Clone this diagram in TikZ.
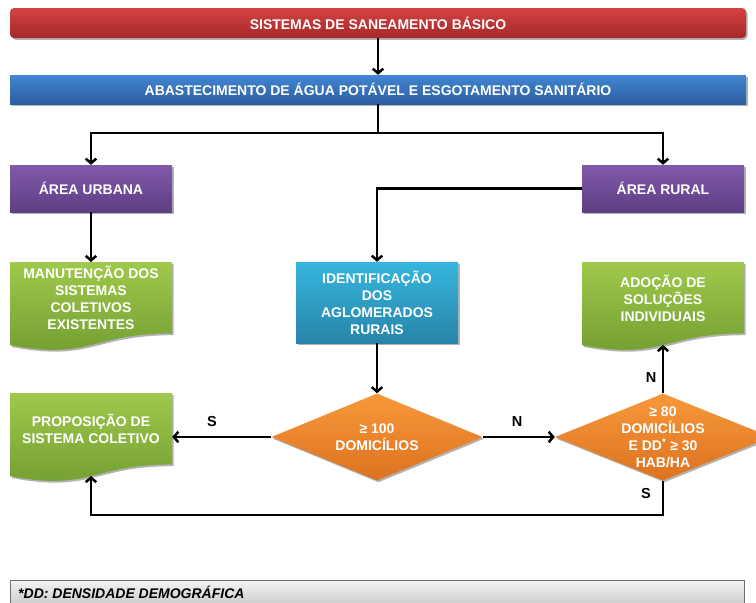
\documentclass[tikz,border=0pt]{standalone}
\usepackage{fontspec}
\setmainfont{Liberation Sans}
\usetikzlibrary{arrows.meta,shapes.geometric,shadows,calc}
\definecolor{redT}{RGB}{212,66,66}
\definecolor{redB}{RGB}{165,40,40}
\definecolor{bluT}{RGB}{66,134,210}
\definecolor{bluB}{RGB}{44,94,160}
\definecolor{purT}{RGB}{130,90,170}
\definecolor{purB}{RGB}{94,62,132}
\definecolor{grnT}{RGB}{160,200,76}
\definecolor{grnB}{RGB}{112,156,48}
\definecolor{cyaT}{RGB}{54,182,222}
\definecolor{cyaB}{RGB}{40,132,168}
\definecolor{oraT}{RGB}{248,152,58}
\definecolor{oraB}{RGB}{220,114,32}
\definecolor{gryT}{RGB}{244,244,244}
\definecolor{gryB}{RGB}{196,196,196}
\definecolor{gryD}{RGB}{110,110,110}
\newcommand{\mydoc}[5]{% x0, y0, H, top colour, bottom colour
  \path[top color=#4,bottom color=#5,shadowed]
    (#1,#2) -- (#1+162,#2) -- (#1+162,#2+0.802*#3)
    .. controls (#1+81,#2+0.802*#3) and (#1+81,#2+1.107*#3) .. (#1,#2+0.934*#3) -- cycle;}
\begin{document}
\begin{tikzpicture}[x=1pt,y=-1pt,
  shadowed/.style={drop shadow={shadow xshift=1.5pt,shadow yshift=-1.8pt,opacity=0.3,fill=black}},
  txt/.style={text=white,font=\bfseries\fontsize{14}{17}\selectfont,align=center,inner sep=0pt},
  bar/.style={txt,font=\bfseries\fontsize{14}{17}\selectfont,rectangle,minimum width=736pt,minimum height=#1,shadowed},
  box/.style={txt,rectangle,minimum width=162pt,minimum height=#1,shadowed},
  doctxt/.style={txt,rectangle,minimum width=162pt,minimum height=71.4pt},
  dec/.style={diamond,inner sep=0pt,shadowed},
  lab/.style={font=\bfseries\fontsize{14.5}{16}\selectfont,text=black,inner sep=0pt},
  conn/.style={draw=black,line width=2.5pt,-{Straight Barb[length=4.5pt,width=10.5pt,line width=2.5pt]}},
  line/.style={draw=black,line width=2.5pt}
]
\useasboundingbox (0,0) rectangle (756,603);
\clip (0,0) rectangle (756,603);
\fill[white] (0,0) rectangle (756,603);

% bars
\node[bar=30pt,rounded corners=4pt,top color=redT,bottom color=redB] (top) at (378,23) {SISTEMAS DE SANEAMENTO BÁSICO};
\node[bar=29pt,top color=bluT,bottom color=bluB] (abast) at (378,89.5) {ABASTECIMENTO DE ÁGUA POTÁVEL E ESGOTAMENTO SANITÁRIO};

% areas
\node[box=47pt,top color=purT,bottom color=purB] (urb) at (91,188.5) {ÁREA URBANA};
\node[box=47pt,top color=purT,bottom color=purB] (rur) at (663,188.5) {ÁREA RURAL};

% identification
\node[box=81pt,top color=cyaT,bottom color=cyaB] (ident) at (377,302.5) {IDENTIFICAÇÃO\\DOS\\AGLOMERADOS\\RURAIS};

% document shapes
\mydoc{10}{262}{89}{grnT}{grnB}
\mydoc{582}{262}{89}{grnT}{grnB}
\mydoc{10}{393}{89}{grnT}{grnB}
\node[doctxt,anchor=north] (manut) at (91,262) {MANUTENÇÃO DOS\\SISTEMAS\\COLETIVOS\\EXISTENTES};
\node[doctxt,anchor=north] (adoc) at (663,262) {ADOÇÃO DE\\SOLUÇÕES\\INDIVIDUAIS};
\node[doctxt,anchor=north] (prop) at (91,393) {PROPOSIÇÃO DE\\SISTEMA COLETIVO};
\coordinate (adocB) at (663,345);
\coordinate (propB) at (91,476);

% decisions
\node[dec,minimum width=211pt,minimum height=87pt,top color=oraT,bottom color=oraB] (d1) at (377,437) {};
\node[txt] (d1t) at (377,437) {≥ 100\\DOMICÍLIOS};
\node[dec,minimum width=216pt,minimum height=87pt,top color=oraT,bottom color=oraB] (d2) at (663,437) {};
\node[txt] (d2t) at (663,437) {≥ 80\\DOMICÍLIOS\\E DD\textsuperscript{*} ≥ 30\\HAB/HA};

% footer
\path[top color=gryT,bottom color=gryB,draw=gryD,line width=0.8pt] (10,580) rectangle (744,610);
\node[anchor=west,font=\bfseries\itshape\fontsize{14}{16}\selectfont,inner sep=0pt] (foot) at (18,592) {*DD: DENSIDADE DEMOGRÁFICA};

% connectors
\draw[conn] (top) -- (abast);
\coordinate (j1) at (378,133);
\draw[line] (abast.south) -- (j1);
\draw[conn] (j1) -| (urb.north);
\draw[conn] (j1) -| (rur.north);
\draw[conn] (rur.west) -| (ident.north);
\draw[conn] (urb.south) -- (manut.north);
\draw[conn] (ident.south) -- (d1.north);
\draw[conn] (d1.west) -- (d1.west -| prop.east);
\draw[conn] (d1.east) -- (d2.west);
\draw[conn] (d2.north) -- (adocB);
\coordinate (j2) at (663,515);
\draw[conn] (d2.south) -- (j2) -| (propB);

% labels
\node[lab] (ls1) at (212,422) {S};
\node[lab] (ln1) at (517,422) {N};
\node[lab] (ln2) at (651,378) {N};
\node[lab] (ls2) at (646,494) {S};
\end{tikzpicture}
\end{document}
